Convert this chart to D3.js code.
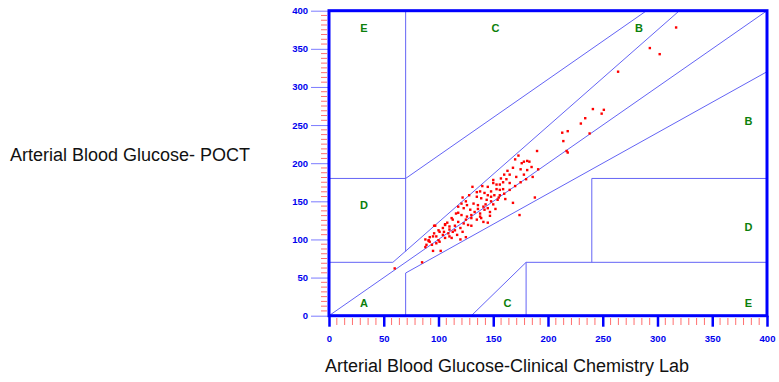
<!DOCTYPE html>
<html>
<head>
<meta charset="utf-8">
<script src="https://cdn.jsdelivr.net/npm/d3@7"></script>
<style>
  body { margin: 0; background: #fff; }
  svg { display: block; }
</style>
</head>
<body>
<div id="chart"></div>
<script>
// tick values
const xTicks = [0, 50, 100, 150, 200, 250, 300, 350, 400];
const yTicks = [0, 50, 100, 150, 200, 250, 300, 350, 400];

// Clarke error grid zone boundaries [x1, y1, x2, y2] in mg/dL
const zoneLines = [
  [0, 0, 400, 400],
  [0, 70, 58.33, 70],
  [58.33, 70, 320, 400],
  [70, 84, 70, 400],
  [0, 180, 70, 180],
  [70, 180, 290, 400],
  [70, 0, 70, 56],
  [70, 56, 400, 320],
  [180, 0, 180, 70],
  [180, 70, 400, 70],
  [240, 70, 240, 180],
  [240, 180, 400, 180],
  [130, 0, 180, 70]
];

// zone letters
const zoneNames = ["E", "C", "B", "B", "D", "D", "A", "C", "E"];
const zoneX = [32, 152, 283, 383, 32, 383, 32, 163, 383];
const zoneY = [377, 377, 377, 255, 145, 116, 17, 17, 17];

// measurements: lab value (x) and POCT value (y)
const labValues = [
  190, 173, 178, 181, 176, 183, 168, 165, 171, 181, 191, 180, 162, 165, 159, 156, 153, 150, 145, 131,
  148, 153, 156, 159, 138, 142, 145, 148, 151, 156, 135, 139, 144, 148, 154, 122, 121, 126, 132, 136,
  141, 145, 161, 168, 174, 188, 118, 123, 129, 133, 138, 142, 147, 116, 121, 126, 130, 135, 139, 145,
  113, 118, 123, 127, 138, 106, 110, 115, 120, 109, 113, 97, 101, 104, 100, 95, 91, 94, 98, 101,
  106, 112, 120, 141, 60, 85, 88, 89, 95, 102, 91, 92, 96, 106, 98, 125,
  317, 293, 302, 264, 241, 251, 234, 249, 230, 213, 218, 238, 214, 217, 218,
  170, 175, 160, 163, 157, 150, 140, 135, 128, 125, 118, 112, 108, 104, 100, 96, 92, 88, 105, 110,
  115, 125, 130, 136, 143, 150, 155, 160, 165, 170, 175, 178, 185, 186, 152, 147, 130, 122, 117, 110
];
const poctValues = [
  216, 210, 202, 203, 200, 202, 194, 185, 182, 191, 192, 179, 179, 174, 175, 172, 172, 174, 169, 169,
  163, 166, 165, 166, 163, 161, 158, 156, 158, 158, 156, 154, 152, 150, 152, 155, 147, 145, 147, 145,
  143, 141, 153, 148, 132, 155, 143, 141, 139, 136, 134, 139, 136, 134, 132, 130, 128, 126, 128, 122,
  126, 123, 121, 119, 130, 119, 117, 112, 115, 108, 110, 118, 110, 106, 99, 104, 99, 93, 95, 97,
  102, 102, 100, 123, 62, 70, 90, 93, 85, 85, 98, 97, 118, 120, 104, 103,
  378, 351, 343, 320, 271, 270, 259, 265, 252, 240, 242, 239, 229, 216, 214,
  205, 192, 185, 190, 180, 178, 170, 162, 158, 150, 135, 128, 122, 115, 112, 108, 103, 100, 110, 113,
  118, 126, 132, 140, 146, 146, 155, 160, 165, 170, 175, 185, 195, 182, 140, 131, 118, 110, 106, 104
];

const width = 779, height = 382;
const svg = d3.select("#chart").append("svg")
  .attr("width", width)
  .attr("height", height);

const x = d3.scaleLinear().domain([0, 400]).range([329, 767]);
const y = d3.scaleLinear().domain([0, 400]).range([315.7, 10.7]);

// minor ticks
const xMinor = d3.range(0, 400.01, 50 / 7).filter(v => Math.abs(v / 50 - Math.round(v / 50)) > 0.01);
const yMinor = d3.range(0, 400.01, 50 / 8).filter(v => Math.abs(v / 50 - Math.round(v / 50)) > 0.01);

svg.append("g").selectAll("line")
  .data(xMinor)
  .join("line")
  .attr("x1", d => x(d)).attr("x2", d => x(d))
  .attr("y1", 318).attr("y2", 325)
  .attr("stroke", "#ff7070")
  .attr("stroke-width", 1);

svg.append("g").selectAll("line")
  .data(yMinor)
  .join("line")
  .attr("y1", d => y(d)).attr("y2", d => y(d))
  .attr("x1", 321).attr("x2", 327)
  .attr("stroke", "#ff7070")
  .attr("stroke-width", 1);

// y axis
const yAxis = svg.append("g")
  .attr("transform", "translate(" + x(0) + ",0)")
  .call(d3.axisLeft(y).tickValues(yTicks).tickSize(18).tickPadding(3));
yAxis.select(".domain").remove();
yAxis.selectAll(".tick line").attr("stroke", "#7b7bff").attr("stroke-width", 1);
yAxis.selectAll(".tick text")
  .attr("fill", "#0000ee")
  .style("font-family", "Liberation Sans, Arial, sans-serif")
  .style("font-weight", "bold")
  .style("font-size", "9.5px");

// x axis
const xAxis = svg.append("g")
  .attr("transform", "translate(0," + y(0) + ")")
  .call(d3.axisBottom(x).tickValues(xTicks).tickSize(11).tickPadding(9));
xAxis.select(".domain").remove();
xAxis.selectAll(".tick line").attr("stroke", "#0000ff").attr("stroke-width", 2.5);
xAxis.selectAll(".tick text")
  .attr("fill", "#0000ee")
  .style("font-family", "Liberation Sans, Arial, sans-serif")
  .style("font-weight", "bold")
  .style("font-size", "9.5px");

// zone boundaries
svg.append("g").selectAll("line")
  .data(zoneLines)
  .join("line")
  .attr("x1", d => x(d[0])).attr("y1", d => y(d[1]))
  .attr("x2", d => x(d[2])).attr("y2", d => y(d[3]))
  .attr("stroke", "#6464f5")
  .attr("stroke-width", 1);

// frame
svg.append("rect")
  .attr("x", x(0)).attr("y", y(400))
  .attr("width", x(400) - x(0))
  .attr("height", y(0) - y(400))
  .attr("fill", "none")
  .attr("stroke", "#0000ff")
  .attr("stroke-width", 3);

// zone letters
svg.append("g").selectAll("text")
  .data(zoneNames)
  .join("text")
  .attr("x", (d, i) => x(zoneX[i]))
  .attr("y", (d, i) => y(zoneY[i]))
  .attr("dy", "0.36em")
  .attr("text-anchor", "middle")
  .attr("fill", "#0b800b")
  .style("font-family", "Liberation Sans, Arial, sans-serif")
  .style("font-weight", "bold")
  .style("font-size", "11px")
  .text(d => d);

// points
svg.append("g").selectAll("rect")
  .data(labValues)
  .join("rect")
  .attr("x", (d, i) => x(d) - 1.2)
  .attr("y", (d, i) => y(poctValues[i]) - 1.2)
  .attr("width", 2.4)
  .attr("height", 2.4)
  .attr("fill", "#ff0000");

// axis titles
svg.append("text")
  .attr("x", 507)
  .attr("y", 372)
  .attr("text-anchor", "middle")
  .style("font-family", "Liberation Sans, Arial, sans-serif")
  .style("font-size", "18px")
  .attr("fill", "#111")
  .text("Arterial Blood Glucose-Clinical Chemistry Lab");

svg.append("text")
  .attr("x", 10)
  .attr("y", 161)
  .style("font-family", "Liberation Sans, Arial, sans-serif")
  .style("font-size", "18px")
  .attr("fill", "#111")
  .text("Arterial Blood Glucose- POCT");
</script>
</body>
</html>
